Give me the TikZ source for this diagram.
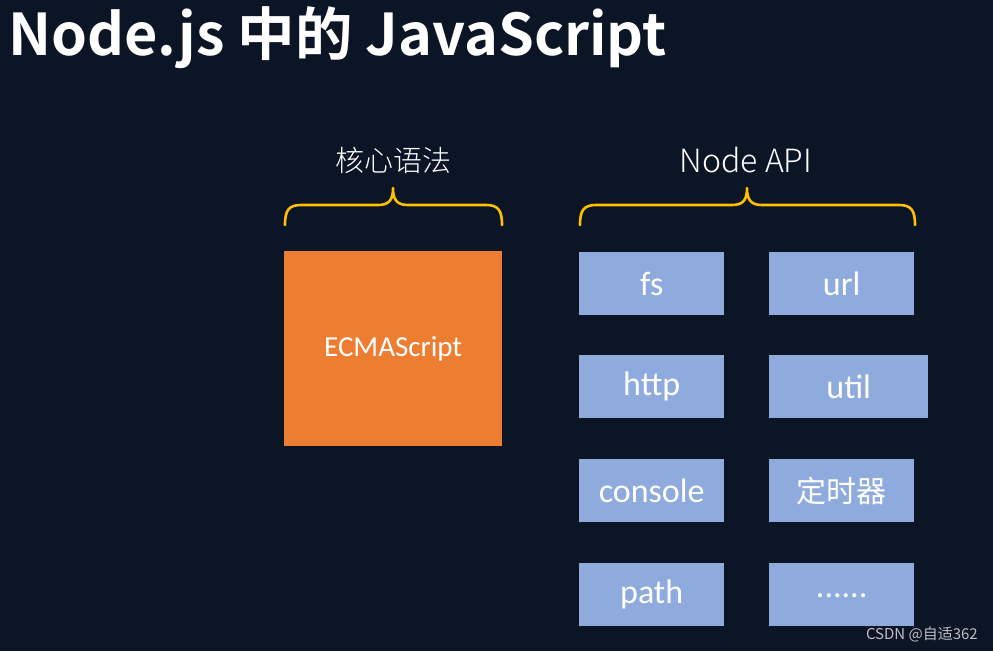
\documentclass[tikz,border=0pt]{standalone}
\usepackage{fontspec}
\setmainfont{Carlito}
\newfontfamily\cjk{Noto Sans CJK SC}
\newfontfamily\cjkb{Noto Sans CJK SC Bold}
\newfontfamily\cjkl{Noto Sans CJK SC Light}
\definecolor{bg}{RGB}{12,21,38}
\definecolor{orangebox}{RGB}{237,125,49}
\definecolor{bluebox}{RGB}{143,170,220}
\definecolor{bracecol}{RGB}{255,192,0}
\definecolor{wm}{RGB}{190,190,195}
\begin{document}
\begin{tikzpicture}[x=1pt,y=-1pt,
  apibox/.style={fill=bluebox, draw=none, anchor=north west, inner sep=0pt, text=white,
     minimum width=145pt, minimum height=63pt,
     font=\fontsize{34}{38}\selectfont},
  bracepath/.style={draw=bracecol, line width=2.6pt, line cap=round, line join=round},
  headtext/.style={text=white, font=\cjkl\fontsize{29}{32}\selectfont}]
\fill[bg] (0,0) rectangle (993,651);
\useasboundingbox (0,0) rectangle (993,651);
% title
\node[anchor=west, text=white, inner sep=0pt, font=\cjkb\fontsize{57.5}{62}\selectfont] (title) at (8,38) {Node.js 中的 JavaScript};
% headings
\node[headtext] (core) at (393,160) {核心语法};
\node[headtext, font=\cjkl\fontsize{32}{36}\selectfont] (api) at (746,160) {Node API};
% braces
\draw[bracepath] (285,225) .. controls (285,210) and (289,205) .. (301,205) -- (378,205)
   .. controls (389,205) and (393,200) .. (393,188)
   .. controls (393,200) and (397,205) .. (408,205) -- (486,205)
   .. controls (498,205) and (502,210) .. (502,225);
\draw[bracepath] (580,225) .. controls (580,210) and (584,205) .. (596,205) -- (732,205)
   .. controls (743,205) and (747,200) .. (747,188)
   .. controls (747,200) and (751,205) .. (762,205) -- (899,205)
   .. controls (911,205) and (915,210) .. (915,225);
% ECMAScript
\node[fill=orangebox, anchor=north west, inner sep=0pt, minimum width=218pt, minimum height=195pt,
      text=white, font=\fontsize{29}{32}\selectfont] (ecma) at (284,251) {ECMAScript};
% API boxes
\node[apibox] (fs) at (579,252) {fs};
\node[apibox] (url) at (769,252) {url};
\node[apibox] (http) at (579,355) {http};
\node[apibox, minimum width=159pt] (util) at (769,355) {util};
\node[apibox] (console) at (579,459) {console};
\node[apibox, font=\cjk\fontsize{30}{34}\selectfont] (timer) at (769,459) {定时器};
\node[apibox] (path) at (579,563) {path};
\node[apibox] (more) at (769,563) {\raisebox{-5pt}{......}};
% watermark
\node[anchor=east, text=wm, inner sep=0pt, font=\cjk\fontsize{15}{17}\selectfont] (mark) at (978,634) {CSDN @自适362};
\end{tikzpicture}
\end{document}
